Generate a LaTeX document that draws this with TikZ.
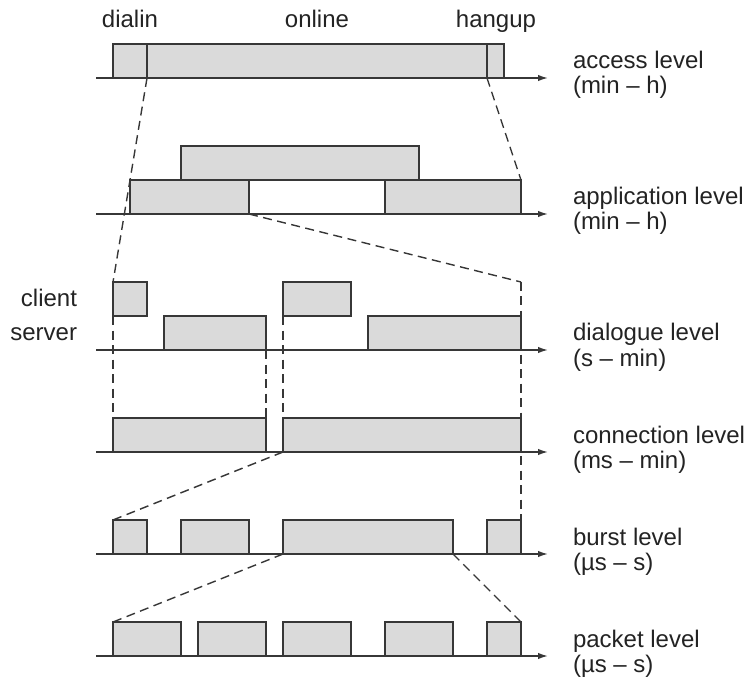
\documentclass[tikz,border=0pt]{standalone}
\usepackage{fontspec}
\setmainfont{Liberation Sans}
\usetikzlibrary{arrows.meta}
\definecolor{boxfill}{RGB}{218,218,218}
\definecolor{ink}{RGB}{55,55,55}
\definecolor{txt}{RGB}{35,35,35}
\newcommand\mybox[4]{\node[box, minimum width={#3pt-#2pt}] (#1) at (#2,#4) {};}
\begin{document}
\begin{tikzpicture}[x=1pt,y=-1pt,
  box/.style={draw=ink, fill=boxfill, line width=1.5pt, rectangle, inner sep=0pt, outer sep=0pt, anchor=south west, minimum height=34pt},
  axisline/.style={draw=ink, line width=1.5pt, -{Latex[length=10pt,width=6.5pt]}},
  link/.style={draw=ink, line width=1.4pt, dash pattern=on 9pt off 5.5pt},
  lbl/.style={inner sep=0pt, outer sep=0pt, text=txt, font=\fontsize{24}{28}\selectfont},
]
\useasboundingbox (0,0) rectangle (749,684);

% axes
\foreach \n/\y in {acc/78, app/214, dlg/350, con/452, bur/554, pkt/656}{
  \coordinate (\n-a) at (96,\y);
  \coordinate (\n-b) at (548,\y);
}

% access level
\mybox{acc-d}{113}{147}{78}
\mybox{acc-o}{147}{487}{78}
\mybox{acc-h}{487}{504}{78}
% application level
\mybox{app-l}{130}{249}{214}
\mybox{app-r}{385}{521}{214}
\mybox{app-t}{181}{419}{180}
% dialogue level
\mybox{dlg-c1}{113}{147}{316}
\mybox{dlg-s1}{164}{266}{350}
\mybox{dlg-c2}{283}{351}{316}
\mybox{dlg-s2}{368}{521}{350}
% connection level
\mybox{con-1}{113}{266}{452}
\mybox{con-2}{283}{521}{452}
% burst level
\mybox{b1}{113}{147}{554}
\mybox{b2}{181}{249}{554}
\mybox{b3}{283}{453}{554}
\mybox{b4}{487}{521}{554}
% packet level
\mybox{p1}{113}{181}{656}
\mybox{p2}{198}{266}{656}
\mybox{p3}{283}{351}{656}
\mybox{p4}{385}{453}{656}
\mybox{p5}{487}{521}{656}

\foreach \n in {acc,app,dlg,con,bur,pkt}{
  \draw[axisline] (\n-a) -- (\n-b);
}

% dashed zoom lines
\coordinate (dtr) at (dlg-s2.north east |- dlg-c2.north);
\draw[link] (acc-d.south east) -- (dlg-c1.north west);
\draw[link] (acc-h.south west) -- (app-r.north east);
\draw[link] (app-l.south east) -- (dtr);
\draw[link] (dtr) -- (b4.north east);
\draw[link] (dlg-c1.south west) -- (con-1.north west);
\draw[link] (dlg-s1.south east) -- (con-1.north east);
\draw[link] (dlg-c2.south west) -- (con-2.north west);
\draw[link] (con-2.south west) -- (b1.north west);
\draw[link] (b3.south west) -- (p1.north west);
\draw[link] (b3.south east) -- (p5.north east);

% top labels
\node[lbl, anchor=base] (t-dialin) at (130,28) {dialin};
\node[lbl, anchor=base] (t-online) at (317,28) {online};
\node[lbl, anchor=base] (t-hangup) at (496,28) {hangup};
\node[lbl, anchor=base east] (t-client) at (77,307) {client};
\node[lbl, anchor=base east] (t-server) at (77,341) {server};

% right labels
\foreach \n/\y/\a/\b in {acc/78/access level/(min – h),
                        app/214/application level/(min – h),
                        dlg/350/dialogue level/(s – min),
                        con/452/connection level/(ms – min),
                        bur/554/burst level/(µs – s),
                        pkt/656/packet level/(µs – s)}{
  \node[lbl, anchor=base west] (\n-l1) at (573,\y-9) {\a};
  \node[lbl, anchor=base west] (\n-l2) at (573,\y+16) {\b};
}
\end{tikzpicture}
\end{document}
